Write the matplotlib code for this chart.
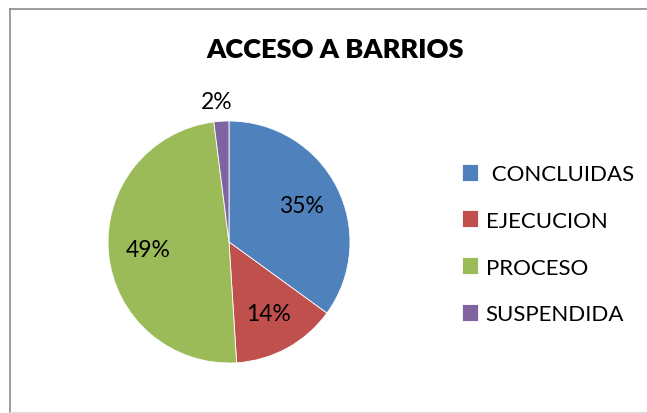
import matplotlib.pyplot as plt
from matplotlib.lines import Line2D
import numpy as np

# datos del grafico
categorias = [' CONCLUIDAS', 'EJECUCION', 'PROCESO', 'SUSPENDIDA']
valores = [35, 14, 49, 2]
colores = ['#4F81BD', '#C0504D', '#9BBB59', '#8064A2']
titulo = 'ACCESO A BARRIOS'

plt.rcParams['font.family'] = ['Lato', 'DejaVu Sans']

W, H = 647, 414
fig = plt.figure(figsize=(W / 100, H / 100), dpi=100)
fig.patch.set_facecolor('white')

# borde del area del grafico
fig.add_artist(Line2D([9.5 / W, 9.5 / W], [0, 1 - 9.5 / H], color='#8c8c8c', lw=1.2))
fig.add_artist(Line2D([9.5 / W, 1], [1 - 9.5 / H, 1 - 9.5 / H], color='#8c8c8c', lw=1.2))
fig.add_artist(Line2D([9.5 / W, 1], [0.8 / H, 0.8 / H], color='#e0e0e0', lw=1))

# pie
ax = fig.add_axes([108 / W, 50 / H, 242 / W, 242 / H])
wedges, texts, autotexts = ax.pie(
    valores, colors=colores, startangle=90, counterclock=False, radius=1,
    autopct='%1.0f%%', pctdistance=0.67,
    wedgeprops=dict(edgecolor='white', linewidth=0.6),
    textprops=dict(fontsize=16.5, color='black'))
ax.set_xlim(-1, 1)
ax.set_ylim(-1, 1)
ax.set_aspect('equal')

# el 2% va fuera del pastel
mid = np.deg2rad(90 - 360 * (sum(valores[:3]) + valores[3] / 2) / sum(valores))
autotexts[3].set_position((1.16 * np.cos(mid) - 0.03, 1.16 * np.sin(mid)))

fig.text(335 / W, 1 - 50 / H, titulo, ha='center', va='center',
         fontsize=19.5, fontweight='heavy')

# leyenda
ax.legend(wedges, categorias, loc='center left', frameon=False,
          bbox_to_anchor=(462 / W, 1 - 245 / H), bbox_transform=fig.transFigure,
          fontsize=16, handlelength=0.72, handleheight=0.8, handletextpad=0.35,
          labelspacing=1.2, borderpad=0, borderaxespad=0)

fig.savefig('out.png', dpi=100, facecolor='white')
